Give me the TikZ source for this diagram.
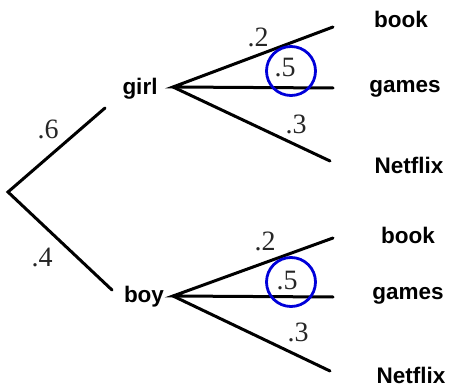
\documentclass[tikz,border=0pt]{standalone}
\usepackage{fontspec}
\setmainfont{Liberation Serif}
\newfontfamily\labfont{Liberation Sans}
\begin{document}
\begin{tikzpicture}[x=1pt,y=-1pt,
  branch/.style={line width=3pt,line cap=round},
  word/.style={font=\labfont\bfseries\fontsize{22.5}{26}\selectfont,inner sep=0pt},
  prob/.style={font=\fontsize{28}{30}\selectfont,text=black!85,inner sep=0pt},
  ring/.style={draw=blue!85!black,line width=2.8pt,circle,minimum size=49pt,inner sep=0pt}]
\useasboundingbox (0,0) rectangle (449,387);
% root
\coordinate (root) at (8,192);
\coordinate (gend) at (105,108);
\coordinate (bend) at (112,290);
\draw[branch] (gend) -- (root) -- (bend);
\node[prob] (p6) at (48,129) {.6};
\node[prob] (p4) at (42,257) {.4};
% girl
\node[word] (girl) at (140,89) {girl};
\coordinate (gs) at (173,87);
\coordinate (gb) at (333,27);
\coordinate (gg) at (333,88);
\coordinate (gn) at (330,161);
\draw[branch] (gb) -- (gs) -- (gg);
\draw[branch] (gs) -- (gn);
\node[word] (gbook) at (401,19) {book};
\node[word] (ggames) at (405,89) {games};
\node[word] (gnet) at (409,165) {Netflix};
\node[prob] (g2) at (258,37) {.2};
\node[prob] (g5) at (285,68) {.5};
\node[ring] (gc) at (291,71) {};
\node[prob] (g3) at (296,124) {.3};
% boy
\node[word] (boy) at (144,297) {boy};
\coordinate (bs) at (173,296);
\coordinate (bb) at (333,238);
\coordinate (bg) at (333,297);
\coordinate (bn) at (330,371);
\draw[branch] (bb) -- (bs) -- (bg);
\draw[branch] (bs) -- (bn);
\node[word] (bbook) at (408,235) {book};
\node[word] (bgames) at (408,296) {games};
\node[word] (bnet) at (411,375) {Netflix};
\node[prob] (b2) at (265,241) {.2};
\node[prob] (b5) at (287,281) {.5};
\node[ring] (bc) at (291,282) {};
\node[prob] (b3) at (298,332) {.3};
\end{tikzpicture}
\end{document}
